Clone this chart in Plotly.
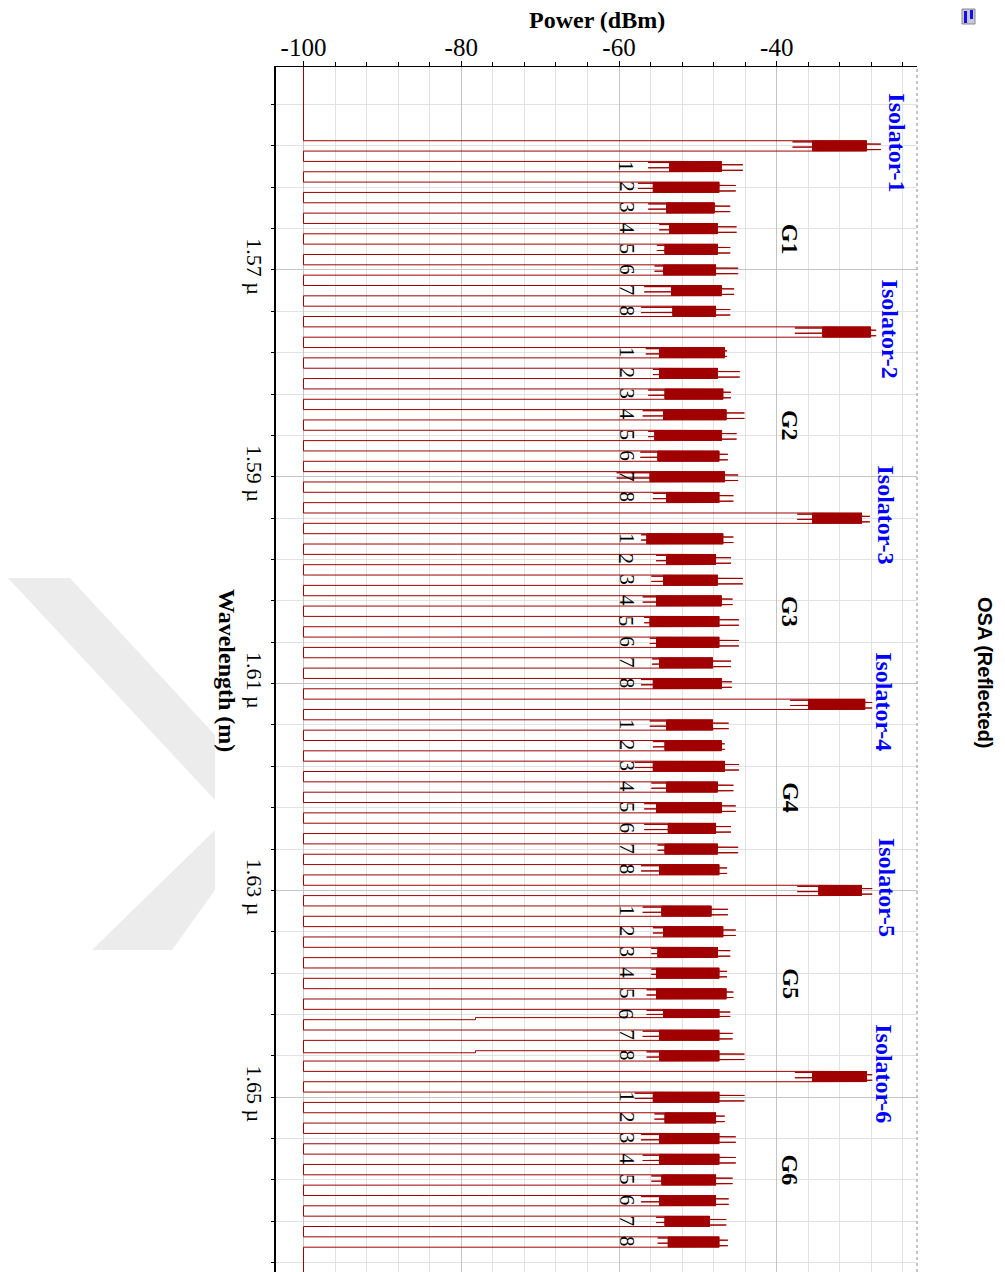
import plotly.graph_objects as go

# ---------------- DATA ----------------
# Isolator reflection peaks (nm) and their noise envelope [left spike, core low, core high, right spike] (dBm)
iso_center_nm = [1558, 1576, 1594, 1612, 1630, 1648]
iso_noise = [
    [-38.0, -35.5, -28.6, -26.8],
    [-37.7, -34.2, -28.1, -27.4],
    [-37.4, -35.5, -29.2, -28.2],
    [-38.3, -36.0, -28.8, -27.9],
    [-37.4, -34.7, -29.2, -27.9],
    [-37.7, -35.5, -28.6, -27.9],
]
iso_names = ["Isolator-1", "Isolator-2", "Isolator-3", "Isolator-4", "Isolator-5", "Isolator-6"]

# FBG channels per group (nm)
group_names = ["G1", "G2", "G3", "G4", "G5", "G6"]
ch_center_nm = [
    [1560, 1562, 1564, 1566, 1568, 1570, 1572, 1574],
    [1578, 1580, 1582, 1584, 1586, 1588, 1590, 1592],
    [1596, 1598, 1600, 1602, 1604, 1606, 1608, 1610],
    [1614, 1616, 1618, 1620, 1622, 1624, 1626, 1628],
    [1632, 1634, 1636, 1638, 1640, 1642, 1644, 1646],
    [1650, 1652, 1654, 1656, 1658, 1660, 1662, 1664],
]
ch_labels = ["1", "2", "3", "4", "5", "6", "7", "8"]
ch_noise = [
    [[-56.3, -53.6, -47.0, -44.3], [-57.6, -55.7, -47.3, -45.2], [-56.3, -54.0, -47.9, -45.9], [-54.9, -53.6, -47.5, -45.1],
     [-55.2, -54.2, -47.5, -45.9], [-55.5, -54.4, -47.7, -44.9], [-56.8, -53.4, -47.0, -45.4], [-57.2, -53.2, -47.7, -45.9]],
    [[-56.6, -54.9, -46.6, -46.3], [-55.7, -54.9, -47.5, -44.7], [-56.3, -54.2, -46.8, -45.8], [-57.0, -54.4, -46.4, -44.1],
     [-56.3, -55.5, -47.0, -45.1], [-57.3, -55.1, -47.3, -46.2], [-60.3, -56.1, -46.6, -44.9], [-55.7, -54.0, -47.3, -45.5]],
    [[-57.2, -56.5, -46.8, -45.5], [-55.3, -54.0, -47.7, -45.8], [-55.9, -54.4, -47.5, -44.3], [-57.0, -55.3, -47.0, -45.6],
     [-56.8, -56.1, -47.3, -44.8], [-56.1, -55.3, -47.3, -44.8], [-55.8, -54.9, -48.1, -45.8], [-57.2, -55.7, -47.0, -45.7]],
    [[-56.1, -54.0, -48.1, -46.1], [-55.7, -54.2, -47.0, -46.6], [-58.0, -55.7, -46.6, -44.8], [-55.9, -54.0, -47.5, -45.5],
     [-56.8, -55.3, -47.0, -45.2], [-56.8, -53.8, -47.7, -45.8], [-55.1, -54.2, -47.5, -44.9], [-57.2, -54.9, -47.3, -46.3]],
    [[-57.0, -54.6, -48.3, -46.2], [-55.7, -54.4, -46.8, -45.2], [-55.9, -55.1, -47.5, -45.9], [-55.9, -55.3, -47.3, -46.3],
     [-56.5, -55.3, -46.4, -45.5], [-56.5, -54.4, -47.3, -45.9], [-57.0, -54.9, -47.3, -45.6], [-56.5, -54.9, -47.3, -44.1]],
    [[-58.0, -55.7, -47.3, -44.1], [-55.5, -54.2, -47.7, -46.6], [-57.2, -54.9, -47.3, -45.2], [-57.0, -54.9, -47.3, -45.2],
     [-55.9, -54.6, -47.7, -45.6], [-57.2, -54.9, -47.7, -46.1], [-55.3, -54.2, -48.5, -46.4], [-55.1, -53.8, -47.3, -46.2]],
]
# intermediate edge levels seen on two G5 band edges: (band centre nm, edge, level dBm)
edge_steps = [(1642, "fall", -78.2), (1646, "rise", -78.2)]

floor_dbm = -100.0          # OSA noise floor
line_width_nm = 1.0          # reflection band width
span_nm = [1550.37, 1666.9]  # wavelength window shown

y_tick_vals = [1570, 1590, 1610, 1630, 1650]
y_tick_text = ["1.57 µ", "1.59 µ", "1.61 µ", "1.63 µ", "1.65 µ"]
x_tick_vals = [-100, -80, -60, -40]
x_tick_text = ["-100", "-80", "-60", "-40"]

# ---------------- BUILD TRACE ----------------
# sample order inside each reflection band (L/H = core low/high, l/h = spikes)
PATTERN = "LHLHLHlHLHLHLHLHLHhLHLHLHLHLHLHLHLlHLHLHLHLHLHLhHLHLHLHL"
bands = []
for c, nz in zip(iso_center_nm, iso_noise):
    bands.append((c, nz))
for g in range(len(ch_center_nm)):
    for c, nz in zip(ch_center_nm[g], ch_noise[g]):
        bands.append((c, nz))
bands.sort(key=lambda b: b[0])
steps = {(c, e): lv for c, e, lv in edge_steps}
STEP_NM = 0.2

xs = [floor_dbm]
ys = [span_nm[0]]
for c, (lsp, lo, hi, hsp) in bands:
    a = c - line_width_nm / 2
    b = c + line_width_nm / 2
    if (c, "rise") in steps:
        lv = steps[(c, "rise")]
        xs += [floor_dbm, lv, lv]; ys += [a + STEP_NM, a + STEP_NM, a]
    else:
        xs.append(floor_dbm); ys.append(a)
    n = len(PATTERN)
    lut = {"L": lo, "H": hi, "l": lsp, "h": hsp}
    b_end = b - STEP_NM if (c, "fall") in steps else b
    for k, ch in enumerate(PATTERN):
        xs.append(lut[ch])
        ys.append(a + (b_end - a) * k / (n - 1))
    if (c, "fall") in steps:
        lv = steps[(c, "fall")]
        xs += [lv, lv, floor_dbm]; ys += [b_end, b, b]
    else:
        xs.append(floor_dbm); ys.append(b)
xs.append(floor_dbm); ys.append(span_nm[1])

fig = go.Figure()
fig.add_trace(go.Scatter(x=xs, y=ys, mode="lines",
                         line=dict(color="#a00000", width=1, simplify=False),
                         hoverinfo="skip", showlegend=False))

SERIF = "Liberation Serif"
ann = []
iso_label_x = [-24.7, -25.6, -26.2, -26.4, -26.1, -26.5]
for c, name, xp in zip(iso_center_nm, iso_names, iso_label_x):
    ann.append(dict(x=xp, y=c - 0.3, xref="x", yref="y", text=name, textangle=90,
                    showarrow=False, font=dict(family=SERIF, size=24, color="#0000ff", weight="bold"),
                    xanchor="center", yanchor="middle"))
for g, name in enumerate(group_names):
    gc = sum(ch_center_nm[g]) / len(ch_center_nm[g])
    ann.append(dict(x=-38.3, y=gc, xref="x", yref="y", text=name, textangle=90,
                    showarrow=False, font=dict(family=SERIF, size=24, color="black", weight="bold"),
                    xanchor="center", yanchor="middle"))
    for c, lab in zip(ch_center_nm[g], ch_labels):
        ann.append(dict(x=-59.0, y=c, xref="x", yref="y", text=lab, textangle=90,
                        showarrow=False, font=dict(family=SERIF, size=21, color="black"),
                        xanchor="center", yanchor="middle"))

W, H = 1005, 1272
L, R, T, B = 276, 88, 67, 0
pw, ph = W - L - R, H - T - B
def px(x): return (x - L) / pw
def py(y): return (H - B - y) / ph

ann.append(dict(x=px(596.5), y=py(20), xref="paper", yref="paper", text="Power (dBm)",
                showarrow=False, font=dict(family=SERIF, size=24, color="black", weight="bold"),
                xanchor="center", yanchor="middle"))
ann.append(dict(x=px(227), y=py(670), xref="paper", yref="paper", text="Wavelength (m)", textangle=90,
                showarrow=False, font=dict(family=SERIF, size=24, color="black", weight="bold"),
                xanchor="center", yanchor="middle"))
ann.append(dict(x=px(985), y=py(673), xref="paper", yref="paper", text="OSA (Reflected)", textangle=90,
                showarrow=False, font=dict(family="Liberation Sans", size=20, color="black", weight="bold"),
                xanchor="center", yanchor="middle"))

def poly(pts):
    return "M " + " L ".join(f"{px(x):.4f},{py(y):.4f}" for x, y in pts) + " Z"

shapes = [
    # watermark (light gray)
    dict(type="path", xref="paper", yref="paper", layer="below", line=dict(width=0), fillcolor="#ececec",
         path=poly([(8, 578), (70, 578), (215, 735), (215, 800)])),
    dict(type="path", xref="paper", yref="paper", layer="below", line=dict(width=0), fillcolor="#ececec",
         path=poly([(92, 950), (172, 950), (215, 890), (215, 830)])),
    # right dotted border
    dict(type="line", xref="paper", yref="paper", x0=1, x1=1, y0=0, y1=1,
         line=dict(color="#8a8a8a", width=1, dash="dot")),
    # icon top-right
    dict(type="rect", xref="paper", yref="paper", x0=px(962), x1=px(975), y0=py(24), y1=py(9),
         line=dict(color="#888888", width=1), fillcolor="#c8c8d8"),
    dict(type="rect", xref="paper", yref="paper", x0=px(964), x1=px(967), y0=py(23), y1=py(11),
         line=dict(width=0), fillcolor="#1010ee"),
    dict(type="rect", xref="paper", yref="paper", x0=px(970), x1=px(973), y0=py(19), y1=py(10),
         line=dict(width=0), fillcolor="#1010ee"),
]

fig.update_layout(
    width=W, height=H, autosize=False,
    margin=dict(l=L, r=R, t=T, b=B, pad=0),
    paper_bgcolor="white", plot_bgcolor="white",
    annotations=ann, shapes=shapes, showlegend=False,
    xaxis=dict(range=[-103.49, -22.22], side="top", tickvals=x_tick_vals, ticktext=x_tick_text,
               ticks="outside", ticklen=5, tickcolor="black", tickwidth=1,
               showline=True, linecolor="black", linewidth=1, mirror=False,
               showgrid=True, gridcolor="#c4c4c4", gridwidth=1, zeroline=False,
               ticklabelstandoff=-5,
               tickfont=dict(family=SERIF, size=25, color="black"),
               minor=dict(dtick=4, tick0=-100, showgrid=True, gridcolor="#e2e2e2", gridwidth=1,
                          ticks="outside", ticklen=4, tickcolor="black")),
    yaxis=dict(range=[span_nm[1], span_nm[0]], tickvals=y_tick_vals, ticktext=y_tick_text,
               tickangle=90, ticks="outside", ticklen=3, tickcolor="black", tickwidth=1,
               showline=True, linecolor="black", linewidth=2, mirror=False,
               showgrid=True, gridcolor="#c4c4c4", gridwidth=1, zeroline=False,
               ticklabelstandoff=-2,
               tickfont=dict(family=SERIF, size=22, color="black"),
               minor=dict(dtick=4, tick0=1550, showgrid=True, gridcolor="#e2e2e2", gridwidth=1,
                          ticks="outside", ticklen=3, tickcolor="black")),
)

fig.write_html("out.html", config={"displayModeBar": False},
               post_script="document.body.style.margin='0px';document.body.style.overflow='hidden';")
